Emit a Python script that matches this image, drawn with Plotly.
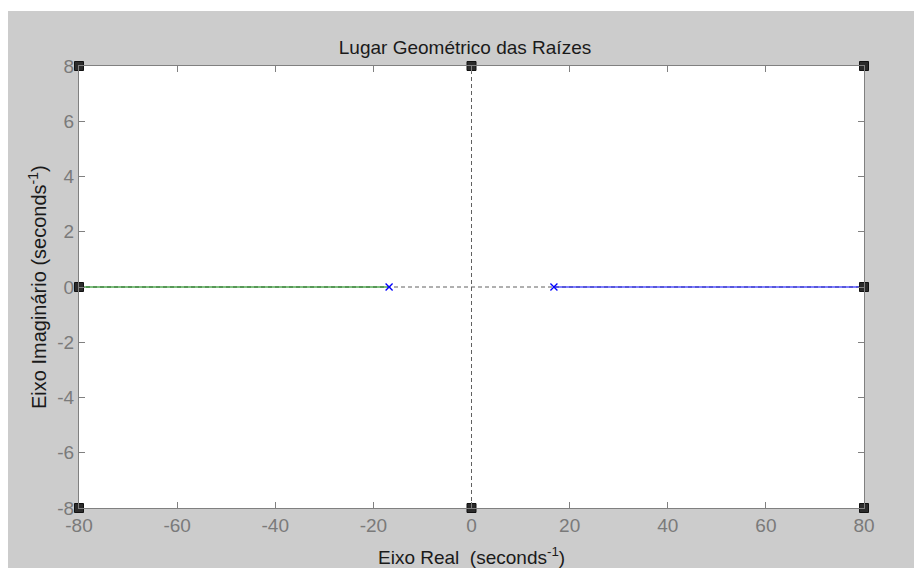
import plotly.graph_objects as go

# Data
pole_left = -16.8
pole_right = 16.8
x_min, x_max = -80, 80
y_min, y_max = -8, 8
locus_left_x = [x_min, pole_left]
locus_left_y = [0, 0]
locus_right_x = [pole_right, x_max]
locus_right_y = [0, 0]
poles_x = [pole_left, pole_right]
poles_y = [0, 0]
x_ticks = [-80, -60, -40, -20, 0, 20, 40, 60, 80]
y_ticks = [-8, -6, -4, -2, 0, 2, 4, 6, 8]
handles_x = [-80, 0, 80, -80, 80, -80, 0, 80]
handles_y = [8, 8, 8, 0, 0, -8, -8, -8]

# page body has an 8px margin, so the figure is drawn 8px smaller
W, H = 914, 560
L, R, T, B = 71, 58, 58, 60
pw, ph = W - L - R, H - T - B

def px(xp):
    return (xp - L) / pw

def py(yp):
    return (H - B - yp) / ph

fig = go.Figure()

# dashed axes lines
fig.add_trace(go.Scatter(x=[x_min, x_max], y=[0, 0], mode="lines",
                         line=dict(color="#606060", width=1, dash="4px,3px"),
                         hoverinfo="skip", showlegend=False))
fig.add_trace(go.Scatter(x=[0, 0], y=[y_min, y_max], mode="lines",
                         line=dict(color="#606060", width=1, dash="4px,3px"),
                         hoverinfo="skip", showlegend=False))

fig.add_trace(go.Scatter(x=locus_left_x, y=locus_left_y, mode="lines",
                         line=dict(color="#008000", width=1.2), showlegend=False))
fig.add_trace(go.Scatter(x=locus_right_x, y=locus_right_y, mode="lines",
                         line=dict(color="#0000ff", width=1.2), showlegend=False))
fig.add_trace(go.Scatter(x=poles_x, y=poles_y, mode="markers",
                         marker=dict(symbol="x-thin", size=7,
                                     line=dict(color="#0000ff", width=1.3)),
                         showlegend=False))
fig.add_trace(go.Scatter(x=handles_x, y=handles_y, mode="markers",
                         marker=dict(symbol="square", size=9, color="#2b2b2b",
                                     line=dict(color="#111111", width=1)),
                         cliponaxis=False, hoverinfo="skip", showlegend=False))

fig.update_layout(
    width=W, height=H,
    margin=dict(l=L, r=R, t=T, b=B),
    paper_bgcolor="#cccccc",
    plot_bgcolor="#ffffff",
    font=dict(family="Liberation Sans, Arial, sans-serif", size=16, color="#1a1a1a"),
    title=dict(text="Lugar Geométrico das Raízes", x=0.5, xanchor="center",
               y=1 - 39 / H, yanchor="middle",
               font=dict(size=19, color="#1a1a1a")),
    shapes=[
        dict(type="rect", xref="paper", yref="paper",
             x0=px(-10), x1=px(W + 10), y0=py(3), y1=py(-10),
             fillcolor="#ffffff", line=dict(width=0), layer="below"),
    ],
    annotations=[
        dict(text="Eixo Real  (seconds<sup>-1</sup>)", xref="paper", yref="paper",
             x=0.5, y=py(548), xanchor="center", yanchor="middle",
             showarrow=False, font=dict(size=19, color="#1a1a1a")),
        dict(text="Eixo Imaginário (seconds<sup>-1</sup>)", xref="paper", yref="paper",
             x=px(29), y=0.5, xanchor="center", yanchor="middle", textangle=-90,
             showarrow=False, font=dict(size=20, color="#1a1a1a")),
    ],
)

fig.update_xaxes(range=[x_min, x_max], tickvals=x_ticks, ticktext=[str(v) for v in x_ticks],
                 ticks="inside", ticklen=6, tickcolor="#808080", mirror="ticks",
                 showline=True, linecolor="#808080", linewidth=1,
                 showgrid=False, zeroline=False,
                 tickfont=dict(size=19, color="#7a7a7a"))
fig.update_yaxes(range=[y_min, y_max], tickvals=y_ticks, ticktext=[str(v) for v in y_ticks],
                 ticks="inside", ticklen=6, tickcolor="#808080", mirror="ticks",
                 showline=True, linecolor="#808080", linewidth=1,
                 showgrid=False, zeroline=False,
                 tickfont=dict(size=19, color="#7a7a7a"))

fig.write_html("out.html")
